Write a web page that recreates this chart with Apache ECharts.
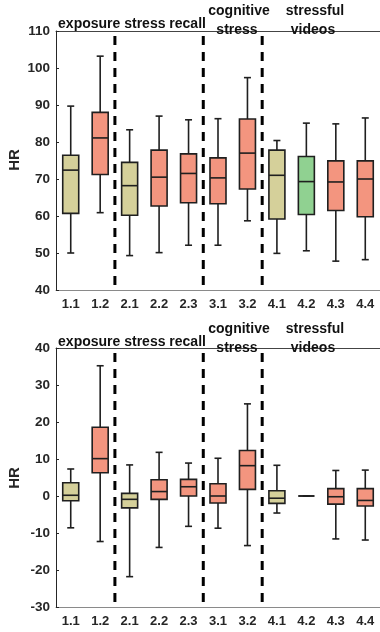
<!DOCTYPE html>
<html><head><meta charset="utf-8">
<script src="https://cdn.jsdelivr.net/npm/echarts@6/dist/echarts.min.js"></script>
<style>html,body{margin:0;padding:0;background:#fff}#c{width:380px;height:632px}</style>
</head><body><div id="c"></div>
<script>
const categories = ['1.1','1.2','2.1','2.2','2.3','3.1','3.2','4.1','4.2','4.3','4.4'];
// top panel (absolute HR)
const topLow    = [50.0, 60.9, 49.3, 50.1, 52.1, 52.1, 58.7, 49.9, 50.6, 47.8, 48.2];
const topQ1     = [60.7, 71.2, 60.2, 62.7, 63.6, 63.3, 67.3, 59.2, 60.4, 61.5, 59.8];
const topMedian = [72.4, 81.1, 68.2, 70.5, 71.5, 70.3, 77.0, 71.0, 69.3, 69.2, 70.0];
const topQ3     = [76.4, 88.0, 74.5, 77.8, 76.8, 75.7, 86.2, 77.8, 76.1, 74.9, 74.9];
const topHigh   = [89.7, 103.2, 83.3, 87.0, 86.0, 86.3, 97.4, 80.4, 85.1, 84.9, 86.5];
const topColorKey = ['k','s','k','s','s','s','s','k','g','s','s'];
// bottom panel (HR change)
const botLow    = [-8.6, -12.3, -21.8, -13.9, -8.2, -8.7, -13.4, -4.6, 0, -11.6, -11.9];
const botQ1     = [-1.3, 6.3, -3.2, -0.9, 0.0, -1.9, 1.8, -2.0, 0, -2.2, -2.7];
const botMedian = [0.2, 10.1, -0.9, 1.2, 2.5, 0.0, 8.2, -0.6, 0, -0.2, -1.2];
const botQ3     = [3.6, 18.6, 0.7, 4.4, 4.5, 3.3, 12.3, 1.4, 0, 2.0, 2.0];
const botHigh   = [7.3, 35.2, 8.4, 11.8, 8.9, 10.2, 24.9, 8.3, 0, 6.9, 7.0];
const botColorKey = ['k','s','k','s','s','s','s','k','g','s','s'];
const topTicks = [40, 110, 10];
const botTicks = [-30, 40, 10];
const separators = [1, 4, 6]; // dashed line after these category indices
const groupLabels = [
  {text:'exposure stress recall', x:132, dy:24},
  {text:'cognitive', x:239, dy:11},
  {text:'stress', x:237, dy:30},
  {text:'stressful', x:315, dy:11},
  {text:'videos', x:313, dy:30}
];

const palette = {k:'#D5D09A', s:'#F3957F', g:'#90D191'};
const FONT = "'Liberation Sans', Arial, sans-serif";
const TXT = '#262626';
const EDGE = '#1f1f1f';

function boxData(lo,q1,md,q3,hi,keys){
  return categories.map((c,i)=>({value:[i,lo[i],q1[i],md[i],q3[i],hi[i]], itemStyle:{color:palette[keys[i]]}}));
}
function renderBox(params, api){
  const i = api.value(0);
  const pLo = api.coord([i, api.value(1)]);
  const pQ1 = api.coord([i, api.value(2)]);
  const pMd = api.coord([i, api.value(3)]);
  const pQ3 = api.coord([i, api.value(4)]);
  const pHi = api.coord([i, api.value(5)]);
  const x = pLo[0], bw = 16, cw = 7;
  const ls = {stroke:EDGE, lineWidth:1.6};
  return {type:'group', children:[
    {type:'line', shape:{x1:x,y1:pQ3[1],x2:x,y2:pHi[1]}, style:ls},
    {type:'line', shape:{x1:x,y1:pQ1[1],x2:x,y2:pLo[1]}, style:ls},
    {type:'line', shape:{x1:x-cw/2,y1:pHi[1],x2:x+cw/2,y2:pHi[1]}, style:ls},
    {type:'line', shape:{x1:x-cw/2,y1:pLo[1],x2:x+cw/2,y2:pLo[1]}, style:ls},
    {type:'rect', shape:{x:x-bw/2,y:pQ3[1],width:bw,height:pQ1[1]-pQ3[1]}, style:{fill:api.visual('color'), stroke:EDGE, lineWidth:1.6}},
    {type:'line', shape:{x1:x-bw/2,y1:pMd[1],x2:x+bw/2,y2:pMd[1]}, style:ls}
  ]};
}
function renderSep(params, api){
  const i = api.value(0);
  const half = api.size([1,0])[0]/2;
  const x = api.coord([i, api.value(1)])[0] + half;
  const cs = params.coordSys;
  return {type:'line', shape:{x1:x,y1:cs.y+5,x2:x,y2:cs.y+cs.height}, style:{stroke:'#000', lineWidth:3, lineDash:[9,7]}};
}

const grids = [
  {left:56, top:31, width:330, height:259},
  {left:56, top:348, width:330, height:259}
];
const xAxes = [], yAxes = [];
[0,1].forEach(g=>{
  xAxes.push({type:'category', gridIndex:g, data:categories, position:'bottom',
    axisLine:{onZero:false, lineStyle:{color:'#8a8a8a', width:1}},
    axisTick:{inside:true, alignWithLabel:true, length:4, lineStyle:{color:TXT}},
    axisLabel:{color:TXT, fontFamily:FONT, fontWeight:'bold', fontSize:13, margin:8}});
  xAxes.push({type:'category', gridIndex:g, data:categories, position:'top',
    axisLine:{onZero:false, lineStyle:{color:'#444', width:1}},
    axisTick:{inside:true, alignWithLabel:true, length:4, lineStyle:{color:TXT}},
    axisLabel:{show:false}});
  const t = g===0 ? topTicks : botTicks;
  yAxes.push({type:'value', gridIndex:g, min:t[0], max:t[1], interval:t[2],
    axisLine:{show:true, onZero:false, lineStyle:{color:TXT, width:1}},
    axisTick:{show:true, inside:true, length:3, lineStyle:{color:TXT}},
    splitLine:{show:false},
    axisLabel:{color:TXT, fontFamily:FONT, fontWeight:'bold', fontSize:13.5, margin:6}});
});

const graphics = [];
[0,318].forEach(off=>{
  groupLabels.forEach(l=>graphics.push({type:'text', x:l.x, y:l.dy+off, z:100,
    style:{text:l.text, x:0, y:0, textAlign:'center', textVerticalAlign:'middle', fill:'#111', font:"bold 14px "+FONT}}));
});
graphics.push({type:'text', x:15, y:160, rotation:Math.PI/2, style:{text:'HR', textAlign:'center', textVerticalAlign:'middle', fill:TXT, font:"bold 15px "+FONT}});
graphics.push({type:'text', x:15, y:478, rotation:Math.PI/2, style:{text:'HR', textAlign:'center', textVerticalAlign:'middle', fill:TXT, font:"bold 15px "+FONT}});

const chart = echarts.init(document.getElementById('c'), null, {renderer:'canvas'});
chart.setOption({
  animation:false,
  grid:grids, xAxis:xAxes, yAxis:yAxes, graphic:graphics,
  series:[
    {type:'custom', xAxisIndex:0, yAxisIndex:0, renderItem:renderBox, data:boxData(topLow,topQ1,topMedian,topQ3,topHigh,topColorKey), z:5},
    {type:'custom', xAxisIndex:2, yAxisIndex:1, renderItem:renderBox, data:boxData(botLow,botQ1,botMedian,botQ3,botHigh,botColorKey), z:5},
    {type:'custom', xAxisIndex:0, yAxisIndex:0, renderItem:renderSep, data:separators.map(s=>[s,topTicks[0]]), z:6},
    {type:'custom', xAxisIndex:2, yAxisIndex:1, renderItem:renderSep, data:separators.map(s=>[s,botTicks[0]]), z:6}
  ]
});
</script></body></html>
